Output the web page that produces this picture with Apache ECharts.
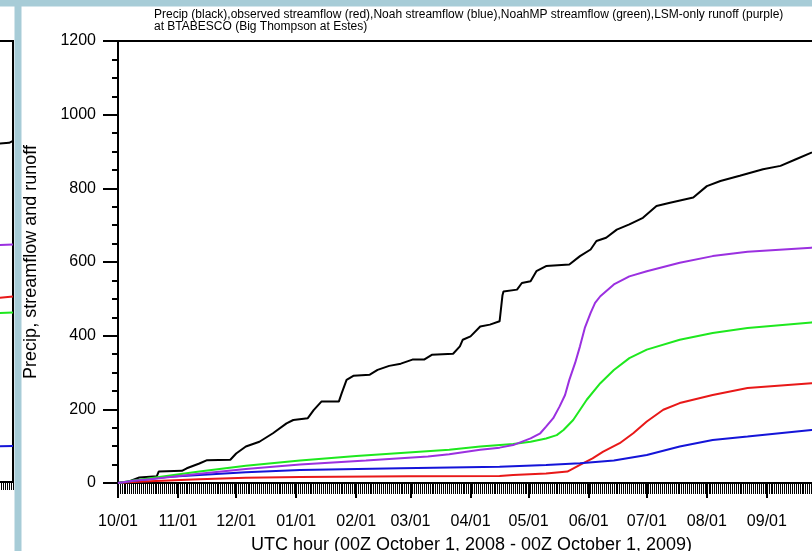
<!DOCTYPE html>
<html><head><meta charset="utf-8">
<script src="https://cdn.jsdelivr.net/npm/echarts@6/dist/echarts.min.js"></script>
<style>html,body{margin:0;padding:0;background:#fff}#c{width:812px;height:551px}</style>
</head><body><div id="c"></div>
<script>
// x values are days since 00Z October 1, 2008
const monthDays = [0,31,61,92,123,151,182,212,243,273,304,335];
const monthLabels = ['10/01','11/01','12/01','01/01','02/01','03/01','04/01','05/01','06/01','07/01','08/01','09/01'];
const yTicks = [0,200,400,600,800,1000,1200];

const precip = [[0,0],[5,3],[11,15],[20,18],[21,31],[33,33],[35.5,40],[42,53],[46,62],[58,63],[61,80],[66,99],[73,112],[80,135],[87,162],[90.5,171],[98,176],[101,198],[105,221],[114,221],[115.5,244],[118,280],[121.5,291],[130,294],[134,307],[140,318],[146,324],[152,335],[158,335],[162,348],[173,351],[176.5,371],[178,389],[182,398],[187,425],[192,430],[197,439],[198.5,510],[199,520],[206,525],[208.5,543],[213,548],[216,575],[221,589],[233,593],[238.5,616],[244,634],[247,657],[252,666],[257.5,688],[264,702],[271,720],[278,752],[285,761],[297,775],[304,806],[311,820],[321,834],[333,852],[342,861],[350,879],[358,897],[365,905]];
const observed = [[0,0],[8,3],[16.5,5],[42,10],[66,14],[94,16],[150,18],[197,19],[204,22],[221,26],[232,31],[238.5,49],[245,67],[250.5,85],[259,108],[266,135],[273,167],[281.5,199],[290,217],[307,239],[325,258],[358,271],[365,273]];
const noah = [[0,0],[8,6],[16.5,11],[25,16],[42,22],[66,29],[94,35],[146,40],[197,44],[221,49],[238.5,53.5],[256,61],[273,76],[290,99],[307,117],[325,126],[358,144],[365,146]];
const noahMP = [[0,0],[8,7],[16.5,13],[42,31],[66,47],[94,61],[123,73],[171,90],[187,99],[204,106],[213,112],[221,121],[226.5,130],[230,144],[235,171],[242,226],[249,271],[256,307],[264,339],[273,362],[290,389],[307,407],[325,421],[358,436],[365,438]];
const lsmRunoff = [[0,0],[8,6],[16.5,10],[42,25],[66,38],[94,50],[128,61],[160,72],[171,78],[187,90],[197,96],[204,103],[213,121],[218,135],[221,153],[224.7,176],[228,208],[230.8,239],[233,280],[236,326],[238.5,371],[241,421],[244,462],[246.3,489],[249,507],[256,539],[264,561],[273,575],[290,598],[307,616],[325,628],[358,639],[365,640]];

// right end of the neighbouring panel (partly visible at left edge)
const leftPrecip = [[330,905],[350,915],[358,921],[363,923],[365,928]];
const leftObserved = [[330,490],[350,497],[365,505]];
const leftNoah = [[330,96],[365,98]];
const leftNoahMP = [[330,455],[365,461]];
const leftLsm = [[330,640],[365,646]];

const FONT = 'Liberation Sans, Arial, Helvetica, sans-serif';
const chart = echarts.init(document.getElementById('c'), null, {renderer:'canvas'});

function ln(data, color, xi, yi) {
  return {type:'line', data:data, xAxisIndex:xi, yAxisIndex:yi, showSymbol:false, symbol:'none',
    lineStyle:{color:color, width:2}, itemStyle:{color:color}, animation:false, z:3};
}

chart.setOption({
  animation:false,
  backgroundColor:'#fff',
  title:{
    text:'Precip (black),observed streamflow (red),Noah streamflow (blue),NoahMP streamflow (green),LSM-only runoff (purple)\nat BTABESCO (Big Thompson at Estes)',
    left:154, top:9, padding:0,
    textStyle:{fontSize:12, lineHeight:11.5, fontWeight:'normal', color:'#000', fontFamily:FONT}
  },
  graphic:[
    {type:'rect', silent:true, z:100, shape:{x:0,y:0,width:812,height:6.5}, style:{fill:'#a7ccd7'}},
    {type:'rect', silent:true, z:100, shape:{x:14.5,y:0,width:7,height:551}, style:{fill:'#a7ccd7'}}
  ],
  grid:[
    {left:118, top:41, right:-13, bottom:68, show:true, borderColor:'#000', borderWidth:2, backgroundColor:'transparent', outerBoundsMode:'none', containLabel:false},
    {left:-694, right:799, top:41, bottom:69, show:true, borderColor:'#000', borderWidth:2, outerBoundsMode:'none', containLabel:false}
  ],
  xAxis:[
    {gridIndex:0, type:'value', position:'bottom', min:0, max:365,
     name:'UTC hour (00Z October 1, 2008 - 00Z October 1, 2009)', nameLocation:'middle', nameGap:53,
     nameTextStyle:{fontSize:18, color:'#000', fontFamily:FONT},
     axisLine:{show:true, onZero:false, lineStyle:{color:'#000', width:2}},
     axisTick:{show:true, customValues:monthDays, length:15, lineStyle:{color:'#000', width:2}},
     axisLabel:{customValues:monthDays, formatter:function(v){return monthLabels[monthDays.indexOf(v)];}, margin:31, fontSize:16, color:'#000', fontFamily:FONT},
     splitLine:{show:false}},
    {gridIndex:0, type:'value', position:'bottom', min:0, max:365, interval:1,
     axisLine:{show:false}, axisTick:{show:true, length:11, lineStyle:{color:'#000', width:1}},
     axisLabel:{show:false}, splitLine:{show:false}},
    {gridIndex:1, type:'value', position:'bottom', min:0, max:365, interval:1,
     axisLine:{show:true, lineStyle:{color:'#000', width:2}}, axisTick:{show:true, length:8, lineStyle:{color:'#000', width:1}},
     axisLabel:{show:false}, splitLine:{show:false}}
  ],
  yAxis:[
    {gridIndex:0, type:'value', min:yTicks[0], max:yTicks[yTicks.length-1], interval:200,
     name:'Precip, streamflow and runoff', nameLocation:'middle', nameGap:78,
     nameTextStyle:{fontSize:18, color:'#000', fontFamily:FONT},
     axisLine:{show:true, lineStyle:{color:'#000', width:2}},
     axisTick:{show:true, length:15, lineStyle:{color:'#000', width:2}},
     minorTick:{show:true, splitNumber:4, length:6, lineStyle:{color:'#000', width:2}},
     axisLabel:{margin:22, fontSize:16, color:'#000', fontFamily:FONT, formatter:function(v){return String(v);}},
     splitLine:{show:false}, minorSplitLine:{show:false}},
    {gridIndex:1, type:'value', min:0, max:1200, show:false}
  ],
  series:[
    ln(precip,'#000',0,0),
    ln(observed,'#e81818',0,0),
    ln(noah,'#1414d8',0,0),
    ln(noahMP,'#1ee81e',0,0),
    ln(lsmRunoff,'#9b30e0',0,0),
    ln(leftPrecip,'#000',2,1),
    ln(leftObserved,'#e81818',2,1),
    ln(leftNoah,'#1414d8',2,1),
    ln(leftNoahMP,'#1ee81e',2,1),
    ln(leftLsm,'#9b30e0',2,1)
  ]
});
</script></body></html>
